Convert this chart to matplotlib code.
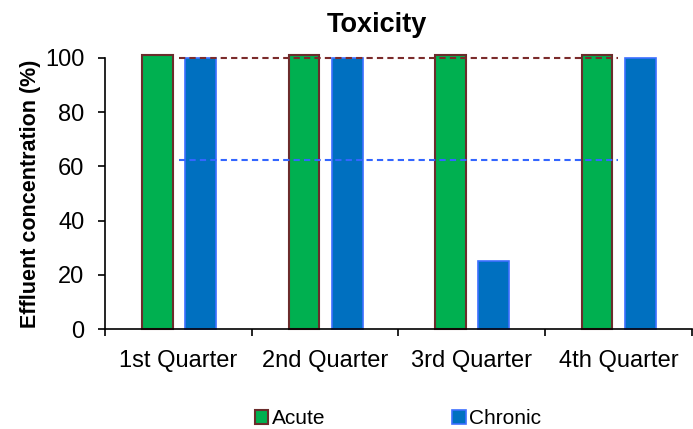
import numpy as np
import matplotlib.pyplot as plt

plt.rcParams['font.family'] = ['Liberation Sans', 'DejaVu Sans']

# Quarterly toxicity results
quarters = ['1st Quarter', '2nd Quarter', '3rd Quarter', '4th Quarter']
acute = [101, 101, 101, 101]
chronic = [100, 100, 25, 100]
acute_limit = 100
chronic_limit = 62.3

x = np.arange(len(quarters))
width = 0.21

fig = plt.figure(figsize=(6.93, 4.29), dpi=100)
ax = fig.add_axes([0.152, 0.233, 0.846, 0.632])

ax.bar(x - 0.145, acute, width, color='#00B050', edgecolor='#6B2C2C',
       linewidth=1.5, label='Acute', clip_on=False, zorder=2)
ax.bar(x + 0.15, chronic, width, color='#0070C0', edgecolor='#3D6FFF',
       linewidth=1.2, label='Chronic', clip_on=False, zorder=2)

# Limit lines
ax.plot([x[0], x[-1]], [acute_limit] * 2, color='#7B2B2B', linestyle='--',
        linewidth=1.5, dashes=(3, 2), zorder=3, clip_on=False)
ax.plot([x[0], x[-1]], [chronic_limit] * 2, color='#3366FF', linestyle='--',
        linewidth=1.5, dashes=(3, 2), zorder=3)

ax.set_xlim(-0.5, 3.5)
ax.set_ylim(0, 100)
ax.set_yticks(range(0, 101, 20))
ax.set_xticks(np.arange(-0.5, 4, 1))
ax.set_xticklabels([])
ax.set_xticks(x, minor=True)
ax.set_xticklabels(quarters, minor=True)
ax.tick_params(axis='x', which='minor', length=0, pad=15, labelsize=17)
ax.tick_params(axis='x', which='major', length=5, width=1.2, direction='out')
ax.tick_params(axis='y', length=5, width=1.2, direction='out', labelsize=17, pad=10)

for side in ['top', 'right']:
    ax.spines[side].set_visible(False)
for side in ['left', 'bottom']:
    ax.spines[side].set_linewidth(1.2)

ax.set_ylabel('Effluent concentration (%)', fontsize=15.5, fontweight='bold', labelpad=3)
ax.set_title('Toxicity', fontsize=19.5, fontweight='bold', pad=19, x=0.4625)

fig.legend(loc='lower center', bbox_to_anchor=(0.574, -0.042), ncol=2,
           frameon=False, fontsize=15, handlelength=0.65, handleheight=0.65,
           handletextpad=0.15, columnspacing=6.1)

fig.savefig('out.png', dpi=100)
